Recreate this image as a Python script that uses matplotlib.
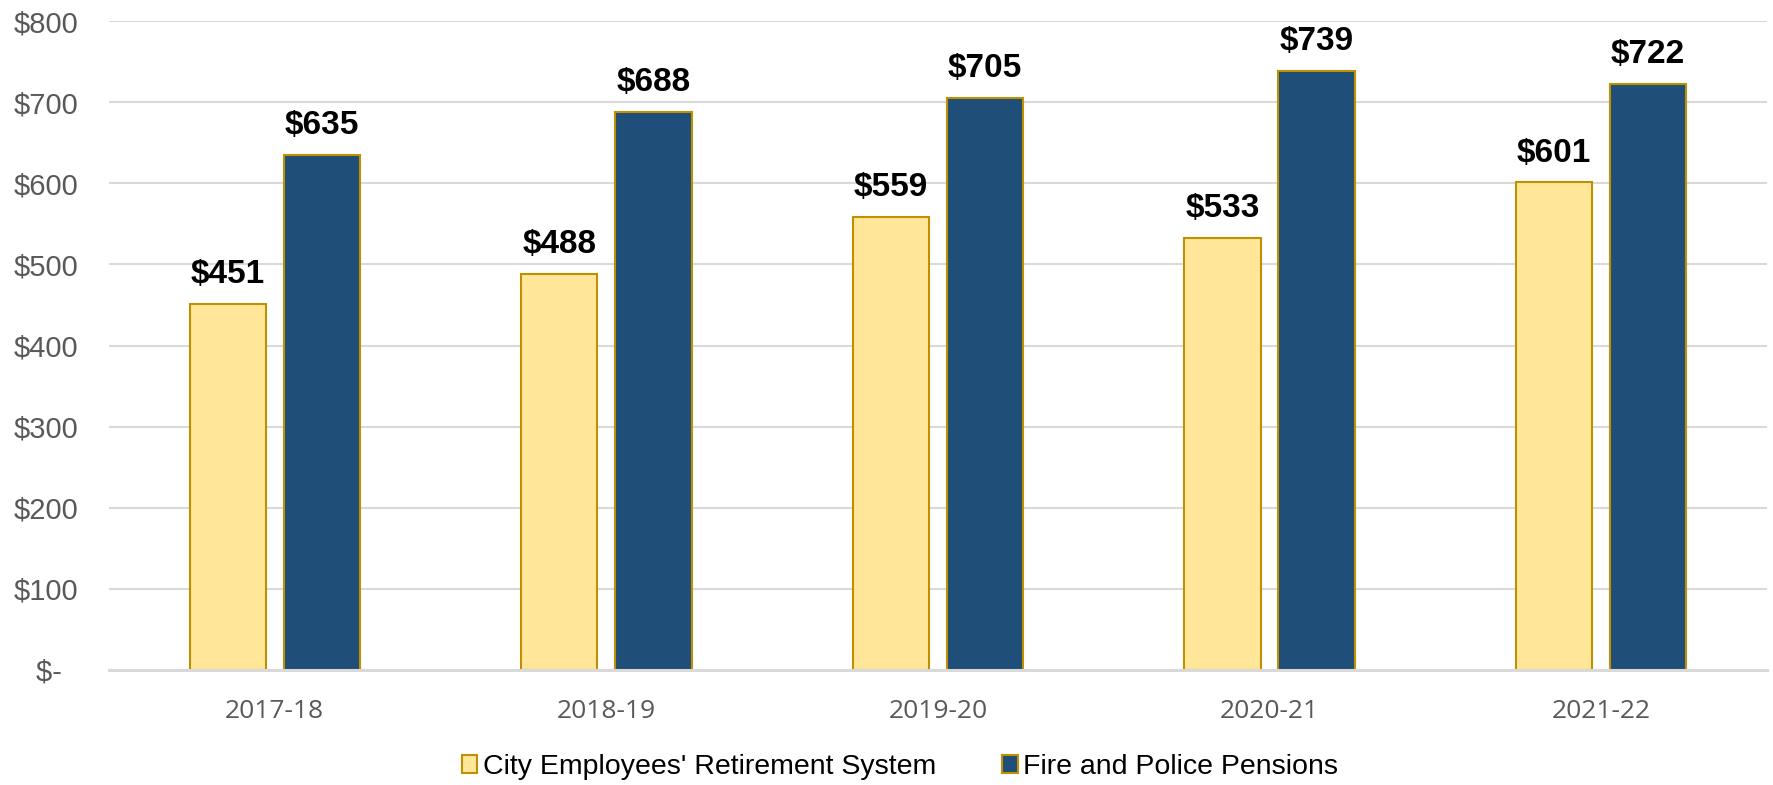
import numpy as np
import matplotlib.pyplot as plt

years = ["2017-18", "2018-19", "2019-20", "2020-21", "2021-22"]
cers = [451, 488, 559, 533, 601]
fire_police = [635, 688, 705, 739, 722]
series_names = ["City Employees' Retirement System", "Fire and Police Pensions"]
yticks = [0, 100, 200, 300, 400, 500, 600, 700, 800]
ytick_labels = ["$-  ", "$100", "$200", "$300", "$400", "$500", "$600", "$700", "$800"]

plt.rcParams['font.family'] = ['Liberation Sans', 'DejaVu Sans']

fig = plt.figure(figsize=(17.74, 7.85), dpi=100)
ax = fig.add_axes([0.0614, 0.1465, 0.9346, 0.8267])

x = np.arange(len(years))
w = 0.23
off = 0.142
edge = '#BF9000'
b1 = ax.bar(x - off, cers, w, color='#FFE699', edgecolor=edge, linewidth=1.5, zorder=3,
            label=series_names[0])
b2 = ax.bar(x + off, fire_police, w, color='#1F4E79', edgecolor=edge, linewidth=1.5, zorder=3,
            label=series_names[1])

for bars in (b1, b2):
    ax.bar_label(bars, labels=[f"${v}" for v in bars.datavalues], padding=10,
                 fontsize=24, fontweight='bold', color='black')

ax.set_xlim(-0.5, len(years) - 0.5)
ax.set_ylim(0, 800)
ax.set_yticks(yticks)
ax.set_yticklabels(ytick_labels)
ax.set_xticks(x)
ax.set_xticklabels(years, fontfamily='Open Sans', fontsize=19, color='#595959')
ax.tick_params(axis='y', length=0, pad=22, labelsize=21, labelcolor='#595959')
ax.tick_params(axis='x', length=0, pad=21)

ax.grid(axis='y', color='#D9D9D9', linewidth=1.5, zorder=0)
for s in ['top', 'right', 'left']:
    ax.spines[s].set_visible(False)
ax.spines['bottom'].set_color('#D9D9D9')
ax.spines['bottom'].set_linewidth(2.2)
ax.spines['bottom'].set_zorder(4)

fig.legend(loc='center', bbox_to_anchor=(900 / 1774, 1 - 767 / 785), ncol=2, frameon=False,
           fontsize=20.5, handlelength=0.55, handleheight=0.55, handletextpad=0.2,
           columnspacing=2.3)

fig.savefig("out.png", dpi=100)
